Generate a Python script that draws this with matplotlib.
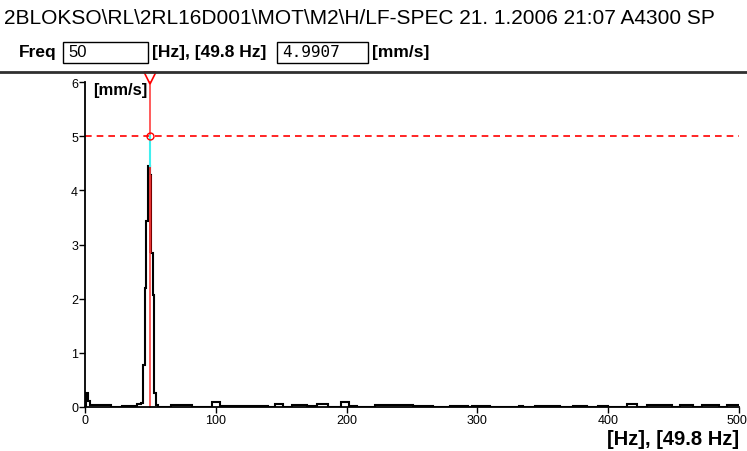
import matplotlib.pyplot as plt
import matplotlib.transforms as mtransforms

plt.rcParams['font.family'] = ['Liberation Sans', 'DejaVu Sans']

# spectrum as steps: segment edges (Hz) and amplitude (mm/s) of each segment
edges = [0, 1, 2.5, 4, 20, 28, 40, 43.125, 44.375, 45.625, 46.875, 48.125, 49.375,
         50.625, 51.875, 53.125, 54.375, 55.625, 66, 82, 97, 103, 140, 145, 151,
         158, 170, 177, 186, 196, 202, 208, 222, 251, 266, 279, 293, 296, 310,
         332, 335, 344, 363, 373, 384, 392, 400, 414, 422, 430, 443, 449, 455,
         465, 472, 485, 491, 500]
amps = [0.0, 0.26, 0.12, 0.03, 0.0, 0.02, 0.05, 0.08, 0.78, 2.2, 3.43, 4.45, 4.28,
        2.85, 2.07, 0.26, 0.03, 0.0, 0.04, 0.0, 0.09, 0.02, 0.0, 0.06, 0.0,
        0.04, 0.01, 0.05, 0.0, 0.09, 0.02, 0.0, 0.04, 0.02, 0.0, 0.02, 0.0, 0.02,
        0.0, 0.02, 0.0, 0.02, 0.0, 0.02, 0.0, 0.02, 0.0, 0.05, 0.0, 0.03, 0.04,
        0.0, 0.03, 0.0, 0.04, 0.0, 0.03]

cursor_hz = 50
cursor_bin = (48.9, 51.2)
cursor_low, cursor_high = 2.85, 4.28
peak_val = 4.45
limit_val = 5.0

fig = plt.figure(figsize=(7.47, 4.52), dpi=100)
fig.patch.set_facecolor('white')

# header texts
fig.text(0.005, 0.958, r'2BLOKSO\RL\2RL16D001\MOT\M2\H/LF-SPEC 21. 1.2006 21:07 A4300 SP',
         fontsize=15, va='center', ha='left')
fig.text(0.025, 0.884, 'Freq', fontsize=12.5, fontweight='bold', va='center')
fig.patches.append(plt.Rectangle((63 / 747, 1 - 64 / 452), 85 / 747, 21 / 452,
                                 transform=fig.transFigure, fill=False, ec='black', lw=1))
fig.text(68 / 747, 0.884, '50', fontsize=12, va='center')
fig.text(152 / 747, 0.884, '[Hz], [49.8 Hz]', fontsize=12.5, fontweight='bold', va='center')
fig.patches.append(plt.Rectangle((277 / 747, 1 - 64 / 452), 91 / 747, 21 / 452,
                                 transform=fig.transFigure, fill=False, ec='black', lw=1))
fig.text(282 / 747, 0.884, '4.9907', fontsize=11.5, va='center', family='DejaVu Sans Mono')
fig.text(372 / 747, 0.884, '[mm/s]', fontsize=12.5, fontweight='bold', va='center')
fig.add_artist(plt.Line2D([0, 1], [1 - 72.5 / 452] * 2, transform=fig.transFigure,
                          color='#303030', lw=2))

ax = fig.add_axes([85 / 747, 1 - 408 / 452, 654 / 747, 325 / 452])
ax.stairs(amps, edges, color='black', lw=1.5, baseline=None)
ax.fill_between(cursor_bin, cursor_low, cursor_high, color='#7a0000', lw=0)
ax.axhline(limit_val, color='red', lw=1.2, ls=(0, (4, 3)))
ax.plot([cursor_hz, cursor_hz], [0, 6], color='#ff4040', lw=1.2, clip_on=False)
ax.plot([cursor_hz, cursor_hz], [peak_val, limit_val], color='#40f0f0', lw=1.5)
ax.plot(cursor_hz, limit_val, 'o', mfc='none', mec='red', ms=5, mew=1)
ax.plot(cursor_hz, 6.07, 'v', mfc='none', mec='red', ms=9, mew=1.2, clip_on=False)

ax.set_xlim(0, 500)
ax.set_ylim(0, 6)
ax.set_xticks([0, 100, 200, 300, 400, 500])
ax.set_yticks(range(7))
for s in ['top', 'right']:
    ax.spines[s].set_visible(False)
for s in ['left', 'bottom']:
    ax.spines[s].set_linewidth(1.3)
ax.tick_params(length=4, width=1, labelsize=9, pad=1)
last = ax.get_xticklabels()[-1]
last.set_horizontalalignment('right')
last.set_transform(last.get_transform() + mtransforms.ScaledTranslation(8 / 100, 0, fig.dpi_scale_trans))

ax.text(0.012, 1.0, '[mm/s]', transform=ax.transAxes, fontsize=12, fontweight='bold',
        va='top', ha='left')
fig.text(739 / 747, 1 - 440 / 452, '[Hz], [49.8 Hz]', fontsize=14.5, fontweight='bold',
         ha='right', va='center')

fig.savefig('out.png', dpi=100)
